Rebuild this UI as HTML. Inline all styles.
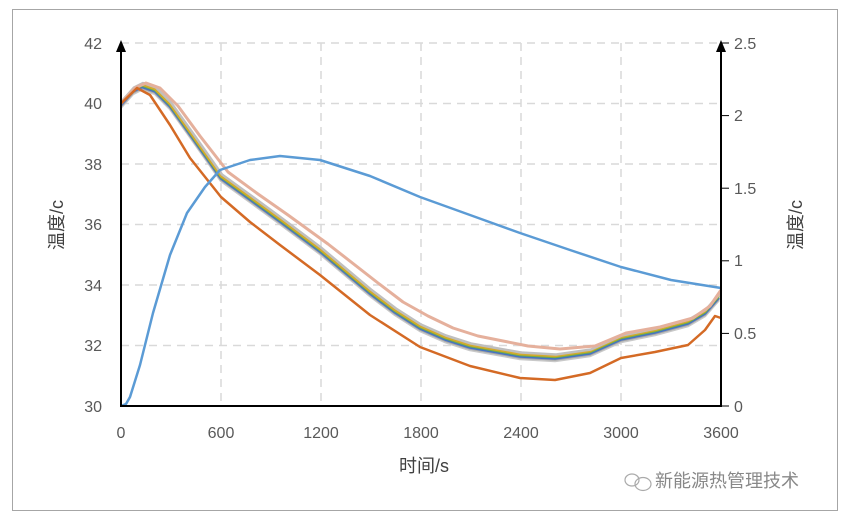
<!DOCTYPE html>
<html><head><meta charset="utf-8"><style>
body{margin:0;background:#fff;}
svg text{font-family:"Liberation Sans","Noto Sans CJK SC",sans-serif;fill:#595959;}
</style></head><body>
<svg width="854" height="517" viewBox="0 0 854 517" xmlns="http://www.w3.org/2000/svg">
<defs>
<polyline id="m" points="121,103.5 133,90 142,85.5 155,90 170,105 190,133 221,177 250,198 280,220 320,250 370,292 395,311 420,327 445,338 470,346 520,355 555,357 590,352 621,338 655,331 688,322 705,312 719,296"/>
</defs>
<rect x="12.5" y="9.5" width="825" height="501" fill="#fff" stroke="#a6a6a6" stroke-width="1"/>
<g stroke="#d9d9d9" stroke-width="1.5" stroke-dasharray="8,6" fill="none">
<line x1="121" y1="43" x2="721" y2="43"/>
<line x1="121" y1="103.5" x2="721" y2="103.5"/>
<line x1="121" y1="164" x2="721" y2="164"/>
<line x1="121" y1="224.5" x2="721" y2="224.5"/>
<line x1="121" y1="285" x2="721" y2="285"/>
<line x1="121" y1="345.5" x2="721" y2="345.5"/>
<line x1="221" y1="43" x2="221" y2="406"/>
<line x1="321" y1="43" x2="321" y2="406"/>
<line x1="421" y1="43" x2="421" y2="406"/>
<line x1="521" y1="43" x2="521" y2="406"/>
<line x1="621" y1="43" x2="621" y2="406"/>
</g>
<g fill="none" stroke-width="2.5" stroke-linejoin="round">
<use href="#m" stroke="#c9c9c9" transform="translate(0,4)"/>
<use href="#m" stroke="#a5a5a5" transform="translate(0,2.5)"/>
<use href="#m" stroke="#4472c4" transform="translate(0,1.5)"/>
<use href="#m" stroke="#70ad47" transform="translate(0,0)"/>
<use href="#m" stroke="#d4aa2a" transform="translate(0,-1)"/>
<use href="#m" stroke="#bfbfbf" transform="translate(1,-2.5)"/>
<polyline points="121,103.5 135,88 146,83 160,88 178,106 200,136 228,172 258,194 288,215 328,244 378,283 403,302 428,316 453,328 478,336 528,346 560,349 595,346 626,333 660,327 693,318 710,306 721,290" stroke="#e5b09c" stroke-width="3"/>
<polyline points="121,103.5 137,88 150,95 170,125 190,158 221,197 250,222 280,245 320,275 370,315 420,347 470,366 520,378 555,380 590,373 621,358 655,352 688,345 705,330 715,316 721,318" stroke="#d46a25"/>
<polyline points="121,406 126,404 130,397 140,365 153,313 170,255 187,213 205,187 220,170 250,160 280,156 320,160 370,176 420,197 470,215 520,233 570,250 621,267 671,280 721,288" stroke="#5b9bd5"/>
</g>
<g stroke="#000" stroke-width="2" fill="none">
<line x1="121" y1="48" x2="121" y2="406"/>
<line x1="721" y1="48" x2="721" y2="406"/>
<line x1="120" y1="406" x2="722" y2="406"/>
<line x1="721" y1="43" x2="729" y2="43" stroke-width="1"/>
<line x1="721" y1="115.6" x2="729" y2="115.6" stroke-width="1"/>
<line x1="721" y1="188.2" x2="729" y2="188.2" stroke-width="1"/>
<line x1="721" y1="260.8" x2="729" y2="260.8" stroke-width="1"/>
<line x1="721" y1="333.4" x2="729" y2="333.4" stroke-width="1"/>
<line x1="721" y1="406" x2="729" y2="406" stroke-width="1"/>
</g>
<polygon points="121,40 116,52 126,52" fill="#000"/>
<polygon points="721,40 716,52 726,52" fill="#000"/>
<g font-size="16" text-anchor="end">
<text x="102" y="49">42</text><text x="102" y="109">40</text><text x="102" y="170">38</text>
<text x="102" y="230">36</text><text x="102" y="291">34</text><text x="102" y="351">32</text><text x="102" y="412">30</text>
</g>
<g font-size="16" text-anchor="start">
<text x="734" y="49">2.5</text><text x="734" y="121">2</text><text x="734" y="194">1.5</text>
<text x="734" y="266">1</text><text x="734" y="339">0.5</text><text x="734" y="412">0</text>
</g>
<g font-size="16" text-anchor="middle">
<text x="121" y="438">0</text><text x="221" y="438">600</text><text x="321" y="438">1200</text>
<text x="421" y="438">1800</text><text x="521" y="438">2400</text><text x="621" y="438">3000</text><text x="721" y="438">3600</text>
</g>
<text x="424" y="472" font-size="18" text-anchor="middle" style="fill:#404040">时间/s</text>
<text transform="translate(63,225) rotate(-90)" font-size="18" text-anchor="middle" style="fill:#404040">温度/c</text>
<text transform="translate(802,225) rotate(-90)" font-size="18" text-anchor="middle" style="fill:#404040">温度/c</text>
<text x="655" y="487" font-size="18" style="fill:#888">新能源热管理技术</text>
<g fill="none" stroke="#aaa" stroke-width="1.2"><ellipse cx="632" cy="480" rx="7" ry="6"/><ellipse cx="643" cy="484" rx="8" ry="6.5"/></g>
</svg>
</body></html>
